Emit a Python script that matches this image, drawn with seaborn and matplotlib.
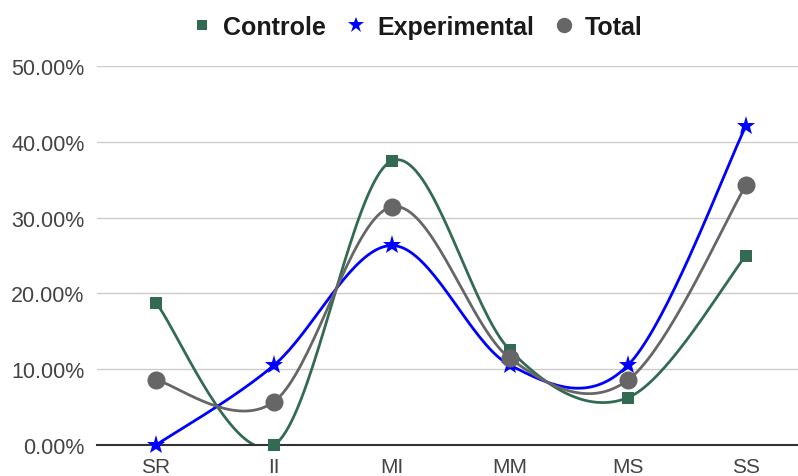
import numpy as np
import pandas as pd
import matplotlib
matplotlib.use("Agg")
import matplotlib.pyplot as plt
from matplotlib.lines import Line2D
from matplotlib.ticker import FuncFormatter
import seaborn as sns

categories = ["SR", "II", "MI", "MM", "MS", "SS"]
controle = [18.75, 0.0, 37.5, 12.5, 6.25, 25.0]
experimental = [0.0, 10.53, 26.32, 10.53, 10.53, 42.11]
total = [8.57, 5.71, 31.43, 11.43, 8.57, 34.29]

series = [
    ("Controle", controle, "#336b52", "s", 9),
    ("Experimental", experimental, "#0000ff", "*", 14),
    ("Total", total, "#666666", "o", 13),
]


def smooth(y, n=40):
    y = np.asarray(y, float)
    x = np.arange(len(y), dtype=float)
    P = np.column_stack([x, y])
    Pe = np.vstack([P[0], P, P[-1]])
    out = []
    for i in range(len(P) - 1):
        p0, p1, p2, p3 = Pe[i], Pe[i + 1], Pe[i + 2], Pe[i + 3]
        c1 = p1 + (p2 - p0) / 6.0
        c2 = p2 - (p3 - p1) / 6.0
        t = np.linspace(0, 1, n)[:, None]
        seg = ((1 - t) ** 3) * p1 + 3 * ((1 - t) ** 2) * t * c1 + 3 * (1 - t) * t ** 2 * c2 + t ** 3 * p2
        out.append(seg if i == 0 else seg[1:])
    s = np.vstack(out)
    return s[:, 0], s[:, 1]


sns.set_theme(style="white")
plt.rcParams["font.family"] = ["Liberation Sans", "DejaVu Sans"]

fig = plt.figure(figsize=(7.98, 4.77), dpi=100)
W, H = 798, 477
ax = fig.add_axes([97 / W, (H - 446) / H, 708 / W, (446 - 67) / H])

for name, vals, col, mk, ms in series:
    xs, ys = smooth(vals)
    sns.lineplot(x=xs, y=ys, ax=ax, color=col, linewidth=2, sort=False,
                 estimator=None, legend=False)
    df = pd.DataFrame({"x": np.arange(len(categories)), "y": vals})
    ax.plot(df["x"], df["y"], linestyle="none", marker=mk, markersize=ms,
            color=col, markeredgewidth=0, zorder=5, clip_on=False)

ax.set_xlim(-0.5, 5.5)
ax.set_ylim(0, 50)
ax.set_yticks([0, 10, 20, 30, 40, 50])
ax.yaxis.set_major_formatter(FuncFormatter(lambda v, p: f"{v:.2f}%"))
ax.set_xticks(range(len(categories)))
ax.set_xticklabels(categories)
ax.grid(axis="y", color="#cccccc", linewidth=1)
ax.set_axisbelow(True)
for s in ["top", "right", "left"]:
    ax.spines[s].set_visible(False)
ax.spines["bottom"].set_color("#333333")
ax.spines["bottom"].set_linewidth(1.5)
ax.tick_params(axis="both", length=0, labelsize=15.5, colors="#444444")
ax.tick_params(axis="y", pad=9)
ax.tick_params(axis="x", pad=9, labelsize=15)
ax.set_xlabel("")
ax.set_ylabel("")

handles = [Line2D([], [], linestyle="none", marker=mk, color=col,
                  markersize=ms * 0.85, markeredgewidth=0)
           for name, vals, col, mk, ms in series]
labels = [s[0] for s in series]
fig.legend(handles, labels, loc="center", bbox_to_anchor=(416 / W, 1 - 28 / H),
           ncol=3, frameon=False, handletextpad=0.35, columnspacing=0.7,
           handlelength=1.0, prop={"weight": "bold", "size": 18},
           labelcolor="#1a1a1a")

fig.savefig("out.png", dpi=100)
